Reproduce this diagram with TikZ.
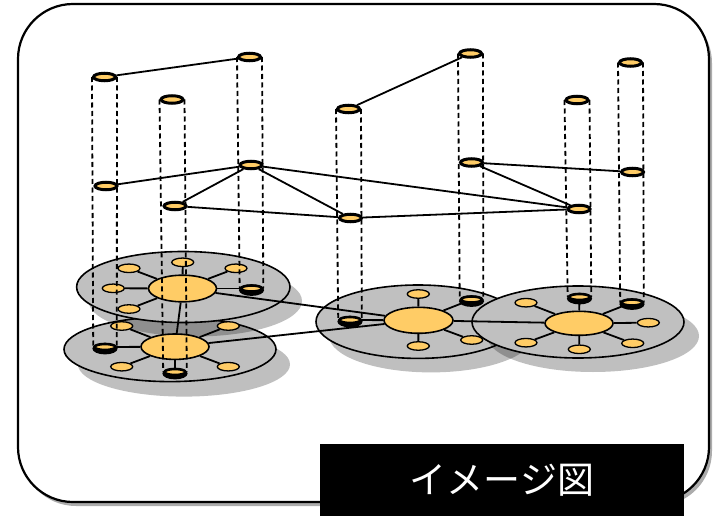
\documentclass[tikz,border=0pt]{standalone}
\usepackage{fontspec}
\newfontfamily\jpfont{Noto Sans CJK JP}
\usetikzlibrary{shapes.geometric}
\pgfdeclarelayer{bg}
\pgfdeclarelayer{spokes}
\pgfdeclarelayer{cols}
\pgfsetlayers{bg,spokes,main,cols}
\definecolor{nodeor}{HTML}{FFCC66}
\definecolor{discgray}{HTML}{C0C0C0}
\tikzset{
  topnode/.style={ellipse, draw, line width=3pt, fill=nodeor, minimum width=22pt, minimum height=7.5pt, inner sep=0pt},
  sat/.style={ellipse, draw, line width=1.3pt, fill=nodeor, minimum width=22pt, minimum height=8.5pt, inner sep=0pt},
  hub/.style={ellipse, draw, line width=1.6pt, fill=nodeor, inner sep=0pt},
  cupnode/.style={ellipse, draw, line width=2.6pt, fill=nodeor, minimum width=21pt, minimum height=6pt, inner sep=0pt},
  col/.style={dash pattern=on 5pt off 3.5pt, line width=1.8pt},
  link/.style={line width=1.8pt},
  disc/.style={draw, line width=1.6pt, fill=discgray},
  dshadow/.style={fill=black, opacity=0.25},
}
\begin{document}
\begin{tikzpicture}[x=1pt,y=-1pt]
\useasboundingbox (0,0) rectangle (714,516);
\begin{pgfonlayer}{bg}
  % outer frame
  \fill[gray!65, rounded corners=55pt] (21,8) rectangle (712,506);
  \draw[line width=2.2pt, fill=white, rounded corners=55pt] (18,4) rectangle (709,502);
  % left discs
  \fill[dshadow] (184,364.3) ellipse [x radius=106, y radius=32.3];
  \path[disc] (170,349.3) ellipse [x radius=106, y radius=32.3];
  \fill[dshadow] (195.3,301) ellipse [x radius=106.7, y radius=35.5];
  \path[disc] (183.3,287) ellipse [x radius=106.7, y radius=35.5];
  % right discs
  \fill[dshadow] (431,335.7) ellipse [x radius=102, y radius=36.7];
  \path[disc] (418,321.7) ellipse [x radius=102, y radius=36.7];
  \fill[dshadow] (593,336) ellipse [x radius=106, y radius=36];
  \path[disc] (578,322) ellipse [x radius=106, y radius=36];
\end{pgfonlayer}

% hubs
\node[hub, minimum width=68pt, minimum height=26.6pt] (h1) at (182.5,288.5) {};
\node[hub, minimum width=68pt, minimum height=25.4pt] (h2) at (175,346.7) {};
\node[hub, minimum width=69pt, minimum height=26pt] (h3) at (418.5,320.3) {};
\node[hub, minimum width=68pt, minimum height=24pt] (h4) at (579,323.3) {};

% satellites
\foreach \n/\x/\y in {s11/129/268.3, s12/182.7/262.3, s13/236/268.3, s14/113.3/288.3, s15/129/309,
  s21/121.7/326, s22/228.3/326, s23/121.7/366.7, s24/228.3/366.7,
  s31/418.3/294, s32/471.7/340, s33/418.3/346,
  s41/526/302.7, s42/648.3/322.7, s43/526/342.7, s44/579.3/349.3, s45/632.7/343.3}
  {\node[sat] (\n) at (\x,\y) {};}

% cups (bottom ends of the columns)
\foreach \n/\x/\y in {a3/105/347, b3/175/372, c3/251.5/288.5, d3/350/320, e3/471.5/299.5, f3/579.5/297, g3/632/302.5}
  {\fill[black] (\x,\y+1.6) ellipse [x radius=12.6, y radius=5.8];
   \node[cupnode] (\n) at (\x,\y) {};}

% upper nodes
\foreach \n/\x/\y in {a1/104.5/77, b1/172/99.5, c1/249.5/57, d1/348.5/109, e1/470.5/53.5, f1/577/100, g1/630.5/62.5,
  a2/106/186, b2/175/206, c2/251/165, d2/350.5/218, e2/471.5/162.5, f2/579/209, g2/632.5/172}
  {\node[topnode] (\n) at (\x,\y) {};}

\begin{pgfonlayer}{spokes}
  \foreach \s in {s11,s12,s13,s14,s15,c3} \draw[link] (h1) -- (\s);
  \foreach \s in {s21,s22,s23,s24,a3,b3} \draw[link] (h2) -- (\s);
  \foreach \s in {s31,s32,s33,d3,e3} \draw[link] (h3) -- (\s);
  \foreach \s in {s41,s42,s43,s44,s45,f3,g3} \draw[link] (h4) -- (\s);
  \draw[link] (h1) -- (h2);
  \draw[link] (h1) -- (h3);
  \draw[link] (h2) -- (h3);
  \draw[link] (h3) -- (h4);
\end{pgfonlayer}

\begin{pgfonlayer}{cols}
  \foreach \t/\b in {a1/a3, b1/b3, c1/c3, d1/d3, e1/e3, f1/f3, g1/g3}
  {\draw[col] (\t.west) -- (\b.west);
   \draw[col] (\t.east) -- (\b.east);}
  % upper layer links
  \draw[link] (a1) -- (c1);
  \draw[link] (d1) -- (e1);
  % middle layer links
  \draw[link] (a2) -- (c2);
  \draw[link] (b2) -- (c2);
  \draw[link] (c2) -- (d2);
  \draw[link] (c2) -- (f2);
  \draw[link] (b2) -- (d2);
  \draw[link] (d2) -- (f2);
  \draw[link] (e2) -- (f2);
  \draw[link] (e2) -- (g2);
  % label
  \node[fill=black, text=white, minimum width=364pt, minimum height=73pt, inner sep=0pt,
        font=\jpfont\fontsize{37}{40}\selectfont] (lbl) at (502,480) {イメージ図};
\end{pgfonlayer}
\end{tikzpicture}
\end{document}
